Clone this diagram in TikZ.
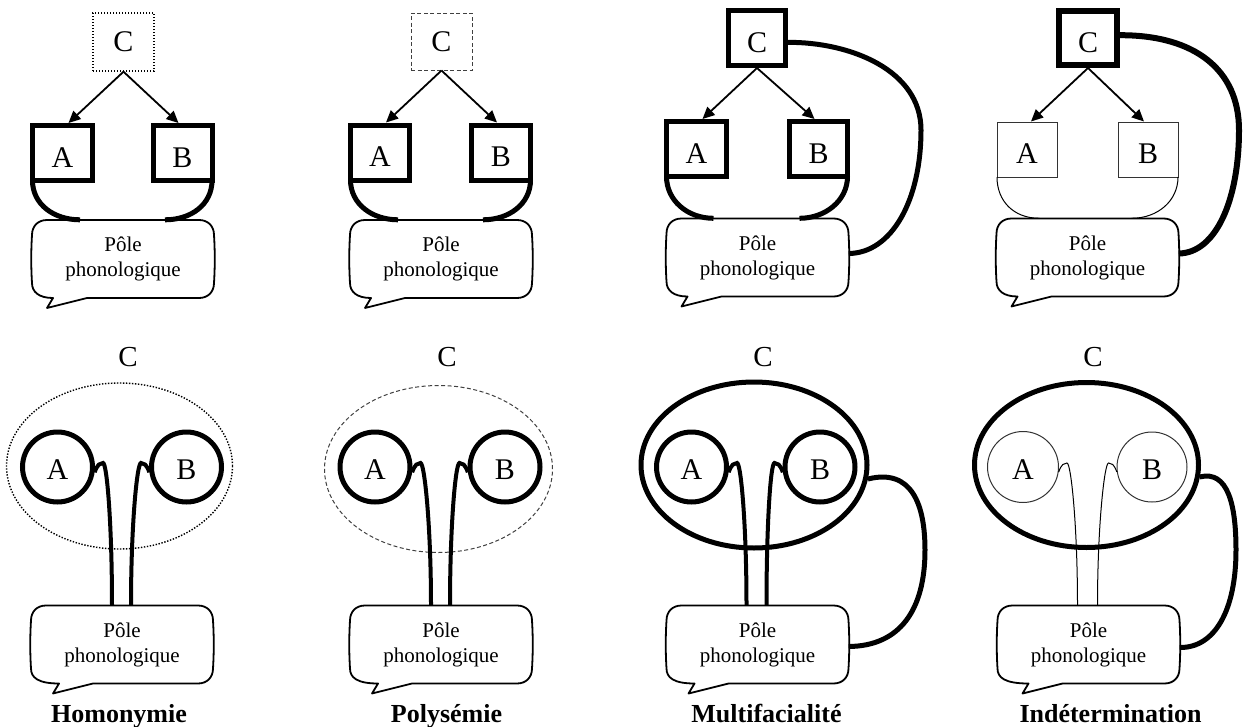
\documentclass[tikz,border=0pt]{standalone}
\usepackage{fontspec}
\setmainfont{Liberation Serif}
\usetikzlibrary{arrows.meta,shapes.geometric,calc}
\tikzset{
  bx/.style={draw, inner sep=0pt, font=\fontsize{30}{30}\selectfont},
  low/.style={text height=28pt, text depth=0pt},
  thk/.style={line width=5pt},
  thn/.style={line width=1pt, draw=black!80},
  dotline/.style={line width=1.4pt, dash pattern=on 1.4pt off 1.6pt},
  dashline/.style={line width=1pt, dash pattern=on 4pt off 2.5pt, draw=black!75},
  circ/.style={circle, draw, inner sep=0pt, minimum size=70pt, text height=25pt, text depth=0pt, font=\fontsize{30}{30}\selectfont},
  ell/.style={ellipse, draw, inner sep=0pt, minimum width=226pt, minimum height=166pt},
  arr/.style={line width=1.8pt, -{Triangle[length=12pt,width=11pt]}},
  bubtext/.style={inner sep=0pt, minimum width=182pt, minimum height=78pt, align=center, font=\fontsize{21}{25}\selectfont},
  bubline/.style={line width=1.8pt, line join=round},
  wig/.style={line width=4pt},
  thinwig/.style={line width=1pt},
  conn/.style={line width=5pt},
  lbl/.style={font=\bfseries\fontsize{26}{26}\selectfont, anchor=base, inner sep=0pt},
  clbl/.style={font=\fontsize{29}{29}\selectfont, anchor=base, inner sep=0pt}
}
\newcommand\bub[4]{%
  \node[bubtext] (#1) at (#2,#3) {Pôle\\phonologique};
  \draw[bubline, shift={(#1.center)}] (-76,-39) -- (76,-39)
    .. controls (85,-39) and (91,-33) .. (91,-24)
    .. controls (92,-8) and (92,8) .. (91,24)
    .. controls (91,33) and (85,39) .. (76,39)
    -- ({#4+40},39) -- (#4,49) -- ({#4+6},39)
    .. controls (-84,39) and (-91,33) .. (-91,24)
    .. controls (-92,8) and (-92,-8) .. (-91,-24)
    .. controls (-91,-33) and (-85,-39) .. (-76,-39) -- cycle;
}
\begin{document}
\begin{tikzpicture}[x=1pt,y=-1pt]
\useasboundingbox (0,0) rectangle (1243,726);

% ---------- Top row, panel 1 ----------
\node[bx, dotline, minimum width=61pt, minimum height=58pt] (C1) at (123.5,42) {C};
\node[bx, thk, low, minimum width=60pt, minimum height=55pt] (A1) at (62.5,153) {A};
\node[bx, thk, low, minimum width=59pt, minimum height=55pt] (B1) at (182.5,153) {B};
\bub{P1}{123}{259}{-76}
\draw[arr] (C1.south) -- ([xshift=6pt]A1.north);
\draw[arr] (C1.south) -- ([xshift=-4pt]B1.north);
\draw[thk] ([shift={(2.5,-2.5)}]A1.south west) .. controls +(0,24) and +(-26,0) .. ([xshift=-43pt]P1.north);
\draw[thk] ([shift={(-2.5,-2.5)}]B1.south east) .. controls +(0,24) and +(26,0) .. ([xshift=42pt]P1.north);

% ---------- Top row, panel 2 ----------
\node[bx, dashline, minimum width=61pt, minimum height=57pt] (C2) at (441.5,41.5) {C};
\node[bx, thk, low, minimum width=59pt, minimum height=55pt] (A2) at (380,152.5) {A};
\node[bx, thk, low, minimum width=59pt, minimum height=55pt] (B2) at (501,152.5) {B};
\bub{P2}{441}{259}{-76}
\draw[arr] (C2.south) -- ([xshift=6pt]A2.north);
\draw[arr] (C2.south) -- ([xshift=-4pt]B2.north);
\draw[thk] ([shift={(2.5,-2.5)}]A2.south west) .. controls +(0,24) and +(-26,0) .. ([xshift=-43pt]P2.north);
\draw[thk] ([shift={(-2.5,-2.5)}]B2.south east) .. controls +(0,24) and +(26,0) .. ([xshift=42pt]P2.north);

% ---------- Top row, panel 3 ----------
\node[bx, thk, text height=29pt, text depth=0pt, minimum width=57pt, minimum height=55pt] (C3) at (757,38) {C};
\node[bx, thk, low, minimum width=60pt, minimum height=55pt] (A3) at (696.5,149) {A};
\node[bx, thk, low, minimum width=58pt, minimum height=55pt] (B3) at (818.5,149) {B};
\bub{P3}{757.5}{257.5}{-76}
\draw[arr] (C3.south) -- ([xshift=6pt]A3.north);
\draw[arr] (C3.south) -- ([xshift=-4pt]B3.north);
\draw[thk] ([shift={(2.5,-2.5)}]A3.south west) .. controls +(0,24) and +(-26,0) .. ([xshift=-44pt]P3.north);
\draw[thk] ([shift={(-2.5,-2.5)}]B3.south east) .. controls +(0,24) and +(26,0) .. ([xshift=42pt]P3.north);
\draw[conn] (C3.-8) .. controls (850,42) and (921,70) .. (921,130)
  .. controls (921,200) and (892,253) .. ([yshift=4pt]P3.east);

% ---------- Top row, panel 4 ----------
\node[bx, line width=6pt, text height=29pt, text depth=0pt, minimum width=58pt, minimum height=54pt] (C4) at (1088,38) {C};
\node[bx, thn, low, minimum width=60pt, minimum height=55pt] (A4) at (1027,149.5) {A};
\node[bx, thn, low, minimum width=60pt, minimum height=55pt] (B4) at (1148,149.5) {B};
\bub{P4}{1087.5}{257.5}{-76}
\draw[arr] (C4.south) -- ([xshift=4pt]A4.north);
\draw[arr] (C4.south) -- ([xshift=-4pt]B4.north);
\draw[line width=1pt] ([shift={(0.5,-0.5)}]A4.south west) .. controls +(0,24) and +(-26,0) .. ([xshift=-48pt]P4.north);
\draw[line width=1pt] ([shift={(-0.5,-0.5)}]B4.south east) .. controls +(0,24) and +(26,0) .. ([xshift=44pt]P4.north);
\draw[line width=6pt] (C4.5) .. controls (1195,35) and (1239,70) .. (1239,130)
  .. controls (1239,200) and (1216,253) .. ([yshift=4pt]P4.east);

% ---------- Bottom row, panel 1: Homonymie ----------
\node[clbl] (L1) at (128,366) {C};
\node[ell, dotline] (E1) at (119.5,466) {};
\node[circ, thk] (A5) at (57.5,467) {A};
\node[circ, thk] (B5) at (186.5,467) {B};
\bub{Q1}{122}{644.5}{-69}
\draw[wig] (A5.-8) .. controls +(3,-8) and +(-3,0) .. ($(A5.east)+(8,-4)$)
  .. controls +(4,0) and +(0,-80) .. ([xshift=-10pt]Q1.north);
\draw[wig] (B5.188) .. controls +(-3,-8) and +(3,0) .. ($(B5.west)+(-8,-4)$)
  .. controls +(-4,0) and +(0,-80) .. ([xshift=9pt]Q1.north);
\node[lbl] (H1) at (119,722) {Homonymie};

% ---------- Bottom row, panel 2: Polysémie ----------
\node[clbl] (L2) at (447,366) {C};
\node[ell, dashline, minimum width=228pt, minimum height=167pt] (E2) at (438.5,469) {};
\node[circ, thk] (A6) at (375,467) {A};
\node[circ, thk] (B6) at (505,467) {B};
\bub{Q2}{441}{644.5}{-69}
\draw[wig] (A6.-8) .. controls +(3,-8) and +(-3,0) .. ($(A6.east)+(8,-4)$)
  .. controls +(4,0) and +(0,-80) .. ([xshift=-10pt]Q2.north);
\draw[wig] (B6.188) .. controls +(-3,-8) and +(3,0) .. ($(B6.west)+(-8,-4)$)
  .. controls +(-4,0) and +(0,-80) .. ([xshift=9pt]Q2.north);
\node[lbl] (H2) at (446.5,722) {Polysémie};

% ---------- Bottom row, panel 3: Multifacialité ----------
\node[clbl] (L3) at (763,366) {C};
\node[ell, thk] (E3) at (754,465) {};
\node[circ, thk] (A7) at (691.5,467) {A};
\node[circ, thk] (B7) at (820,467) {B};
\bub{Q3}{757.5}{644.5}{-69}
\draw[wig] (A7.-8) .. controls +(3,-8) and +(-3,0) .. ($(A7.east)+(8,-4)$)
  .. controls +(4,0) and +(0,-80) .. ([xshift=-11pt]Q3.north);
\draw[wig] (B7.188) .. controls +(-3,-8) and +(3,0) .. ($(B7.west)+(-8,-4)$)
  .. controls +(-4,0) and +(0,-80) .. ([xshift=9pt]Q3.north);
\draw[conn] (E3.-7) .. controls (912,468) and (925,505) .. (925,550)
  .. controls (925,610) and (900,646) .. ([yshift=-2pt]Q3.east);
\node[lbl] (H3) at (766.5,722) {Multifacialité};

% ---------- Bottom row, panel 4: Indétermination ----------
\node[clbl] (L4) at (1093,366) {C};
\node[ell, thk, minimum width=224pt, minimum height=165pt] (E4) at (1086.5,465) {};
\node[circ, thn, minimum size=71pt] (A8) at (1023,467) {A};
\node[circ, thn] (B8) at (1152,467) {B};
\bub{Q4}{1088.5}{644.5}{-66}
\draw[thinwig] (A8.-8) .. controls +(3,-8) and +(-3,0) .. ($(A8.east)+(8,-4)$)
  .. controls +(4,0) and +(0,-80) .. ([xshift=-11pt]Q4.north);
\draw[thinwig] (B8.188) .. controls +(-3,-8) and +(3,0) .. ($(B8.west)+(-8,-4)$)
  .. controls +(-4,0) and +(0,-80) .. ([xshift=9pt]Q4.north);
\draw[conn] (E4.-6) .. controls (1228,470) and (1236,505) .. (1236,550)
  .. controls (1236,610) and (1215,648) .. ([yshift=-3pt]Q4.east);
\node[lbl] (H4) at (1110.5,722) {Indétermination};
\end{tikzpicture}
\end{document}
